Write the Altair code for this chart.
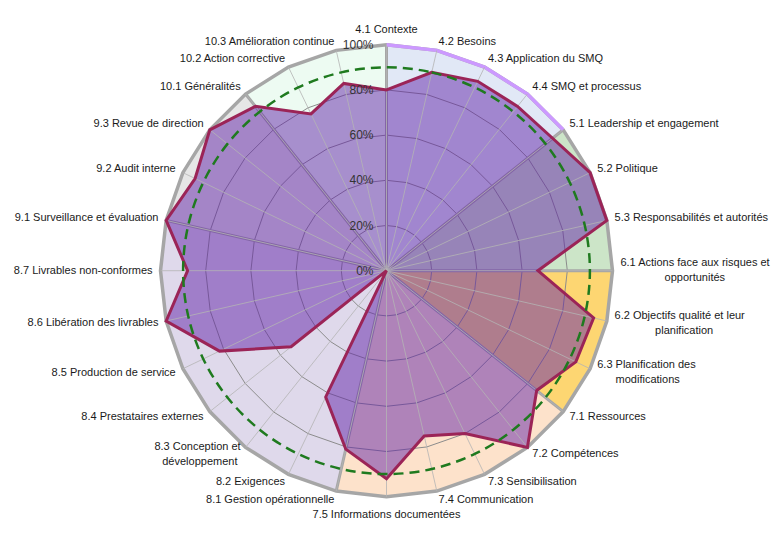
import altair as alt
import pandas as pd

# ---------------- data ----------------
labels = [
    "4.1 Contexte", "4.2 Besoins", "4.3 Application du SMQ", "4.4 SMQ et processus",
    "5.1 Leadership et engagement", "5.2 Politique", "5.3 Responsabilités et autorités",
    "6.1 Actions face aux risques et\nopportunités", "6.2 Objectifs qualité et leur\nplanification",
    "6.3 Planification des\nmodifications", "7.1 Ressources", "7.2 Compétences",
    "7.3 Sensibilisation", "7.4 Communication", "7.5 Informations documentées",
    "8.1 Gestion opérationnelle", "8.2 Exigences", "8.3 Conception et\ndéveloppement",
    "8.4 Prestataires externes", "8.5 Production de service", "8.6 Libération des livrables",
    "8.7 Livrables non-conformes", "9.1 Surveillance et évaluation", "9.2 Audit interne",
    "9.3 Revue de direction", "10.1 Généralités", "10.2 Action corrective",
    "10.3  Amélioration continue",
]
scores = [0.80, 0.90, 0.93, 0.93, 0.94, 1.00, 1.00, 0.67, 0.94, 0.93, 0.85, 1.00, 0.80, 0.75,
          0.92, 0.81, 0.62, 0.00, 0.54, 0.82, 1.00, 0.88, 1.00, 0.94, 1.00, 0.93, 0.77, 0.85]
target = [0.9, 0.9, 0.9, 0.9, 0.9, 0.9, 0.9, 0.9, 0.9, 0.9, 0.9, 0.9, 0.9, 0.9,
          0.9, 0.9, 0.9, 0.9, 0.9, 0.9, 0.9, 0.9, 0.9, 0.9, 0.9, 0.9, 0.9, 0.9]
chapters = ["4", "5", "6", "7", "8", "9", "10"]
chapter_first = [0, 4, 7, 10, 15, 22, 25]
chapter_fill = ["#e1e8f6", "#cce5c8", "#fdd672", "#fde2cb", "#dfd9eb", "#e6e6e6", "#edfbf2"]
grid_levels = [0.0, 0.2, 0.4, 0.6, 0.8, 1.0]
grid_text = ["0%", "20%", "40%", "60%", "80%", "100%"]

N = len(labels)

# ---------------- tables ----------------
pts = pd.DataFrame({"idx": list(range(N)), "score": scores, "target": target})
pts["first"] = pts["idx"].isin(chapter_first)

sec_rows = []
bounds = chapter_first + [N]
for k, ch in enumerate(chapters):
    a, b = bounds[k], bounds[k + 1]
    sec_rows.append({"chapter": ch, "seq": 0, "idx": a, "r": 0.0})
    for j, i in enumerate(range(a, b + 1)):
        sec_rows.append({"chapter": ch, "seq": j + 1, "idx": i, "r": 1.0})
sec = pd.DataFrame(sec_rows)

ring_rows = []
for lv in grid_levels[1:]:
    for i in range(N):
        ring_rows.append({"level": lv, "idx": i})
rings = pd.DataFrame(ring_rows)

lvl = pd.DataFrame({"level": grid_levels, "text": grid_text})

lab_rows = []
for i, lab in enumerate(labels):
    lines = lab.split("\n")
    for ln, t in enumerate(lines):
        lab_rows.append({"idx": i, "line": ln, "nlines": len(lines), "text": t,
                         "firstlen": len(lines[0])})
labdf = pd.DataFrame(lab_rows)

# ---------------- geometry / scales ----------------
RPX = 226.0
W, H = 765, 525
CX, CY = 378.5, 262.7
xs = alt.Scale(domain=[-CX / RPX, (W - CX) / RPX], nice=False, zero=False)
ys = alt.Scale(domain=[-(H - CY) / RPX, CY / RPX], nice=False, zero=False)
X = alt.X("x:Q", scale=xs, axis=None)
Y = alt.Y("y:Q", scale=ys, axis=None)
ANG = f"datum.idx * 2 * PI / {N}"
FONT = "Liberation Sans"
FS = 11
LRX = 1.035        # label radius (horizontal)
LRY = 1.04         # label radius (vertical)
CW = 4.8           # estimated char width (px)
LH = 15.0          # line height (px)


def polar(ch, rexpr):
    return ch.transform_calculate(ang=ANG).transform_calculate(
        x=f"({rexpr}) * sin(datum.ang)", y=f"({rexpr}) * cos(datum.ang)")


# sectors
sector_layers = []
for ch, col in zip(chapters, chapter_fill):
    sector_layers.append(
        polar(alt.Chart(sec), "datum.r")
        .transform_filter(f"datum.chapter == '{ch}'")
        .mark_line(interpolate="linear-closed", fill=col, stroke=col, strokeWidth=0.5)
        .encode(x=X, y=Y, order="seq:Q")
    )

inner_rings = (
    polar(alt.Chart(rings), "datum.level").transform_filter("datum.level < 1")
    .mark_line(interpolate="linear-closed", stroke="#8c8c8c", strokeWidth=1)
    .encode(x=X, y=Y, order="idx:Q", detail="level:N")
)
outer_ring = (
    polar(alt.Chart(rings), "datum.level").transform_filter("datum.level == 1")
    .mark_line(interpolate="linear-closed", stroke="#a6a6a6", strokeWidth=3.5)
    .encode(x=X, y=Y, order="idx:Q")
)
ch4_edge = (
    polar(alt.Chart(sec), "datum.r").transform_filter("datum.chapter == '4' && datum.r == 1")
    .mark_line(stroke="#cc99ff", strokeWidth=3.5)
    .encode(x=X, y=Y, order="seq:Q")
)
thick_spokes = (
    polar(alt.Chart(pts), "1").transform_filter("datum.first")
    .transform_calculate(x0="0", y0="0")
    .mark_rule(stroke="#a6a6a6", strokeWidth=3)
    .encode(x=alt.X("x0:Q", scale=xs, axis=None), y=alt.Y("y0:Q", scale=ys, axis=None),
            x2="x:Q", y2="y:Q")
)
poly_fill = (
    polar(alt.Chart(pts), "datum.score")
    .mark_line(interpolate="linear-closed", fill="#6124a8", fillOpacity=0.5,
               strokeOpacity=0, strokeWidth=0)
    .encode(x=X, y=Y, order="idx:Q")
)
thin_spokes = (
    polar(alt.Chart(pts), "1")
    .transform_calculate(x0="0", y0="0")
    .mark_rule(stroke="#b4b4b4", strokeWidth=1, opacity=0.8)
    .encode(x=alt.X("x0:Q", scale=xs, axis=None), y=alt.Y("y0:Q", scale=ys, axis=None),
            x2="x:Q", y2="y:Q")
)
poly_line = (
    polar(alt.Chart(pts), "datum.score")
    .mark_line(interpolate="linear-closed", stroke="#9b2457", strokeWidth=3, strokeJoin="miter")
    .encode(x=X, y=Y, order="idx:Q")
)
target_line = (
    polar(alt.Chart(pts), "datum.target")
    .mark_line(interpolate="cardinal-closed", stroke="#1f7a1f", strokeWidth=2.5,
               strokeDash=[10, 6])
    .encode(x=X, y=Y, order="idx:Q")
)
level_text = (
    alt.Chart(lvl).transform_calculate(x="0", y="datum.level")
    .mark_text(align="right", baseline="middle", dx=-13, fontSize=12, font=FONT, color="#333333")
    .encode(x=X, y=Y, text="text:N")
)

lab_base = alt.Chart(labdf).transform_calculate(ang=ANG).transform_calculate(
    s="sin(datum.ang)", c="cos(datum.ang)").transform_calculate(
    x=f"{LRX} * datum.s",
    y=f"{LRY} * datum.c - (datum.line - (datum.nlines - 1) / 2) * {LH} / {RPX}")

TXT = dict(fontSize=FS, font=FONT, color="#1a1a1a")
lab_left = lab_base.transform_filter("datum.s > 0.05 && datum.line == 0").mark_text(
    align="left", baseline="middle", **TXT).encode(x=X, y=Y, text="text:N")
lab_right = lab_base.transform_filter("datum.s < -0.05 && datum.line == 0").mark_text(
    align="right", baseline="middle", **TXT).encode(x=X, y=Y, text="text:N")
lab_top = lab_base.transform_filter("abs(datum.s) <= 0.05 && datum.c > 0").mark_text(
    align="center", baseline="bottom", dy=-1, **TXT).encode(x=X, y=Y, text="text:N")
lab_bottom = lab_base.transform_filter("abs(datum.s) <= 0.05 && datum.c < 0").mark_text(
    align="center", baseline="top", dy=3, **TXT).encode(x=X, y=Y, text="text:N")
lab_cont = lab_base.transform_filter("datum.line > 0").transform_calculate(
    xc=f"datum.x + (datum.s > 0 ? 1 : -1) * datum.firstlen * {CW} / 2 / {RPX}").mark_text(
    align="center", baseline="middle", **TXT).encode(
    x=alt.X("xc:Q", scale=xs, axis=None), y=Y, text="text:N")

chart = alt.layer(
    *sector_layers, inner_rings, thick_spokes, outer_ring, ch4_edge,
    poly_fill, thin_spokes, poly_line, target_line,
    level_text, lab_left, lab_right, lab_top, lab_bottom, lab_cont,
).properties(
    width=W, height=H, padding=0, autosize=alt.AutoSizeParams(type="none"),
).configure_view(stroke=None)

chart.save("out.html", embed_options={"renderer": "svg", "actions": False})
